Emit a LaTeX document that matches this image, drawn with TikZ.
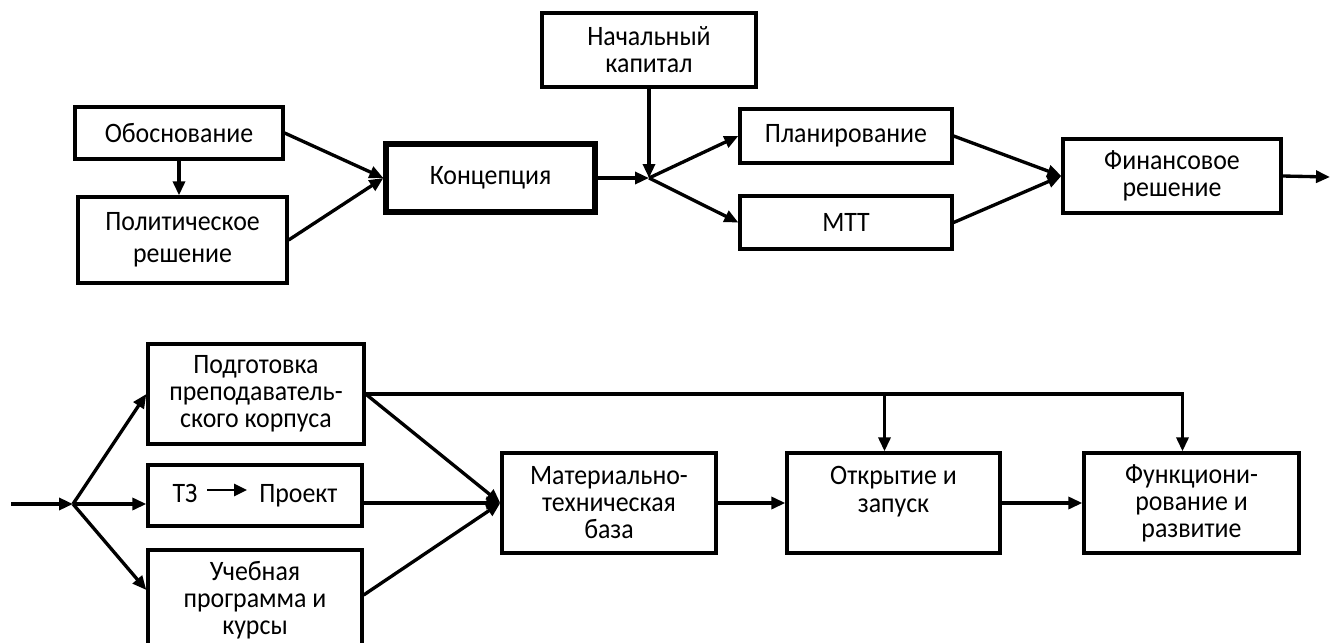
\documentclass[tikz,border=0pt]{standalone}
\usepackage{fontspec}
\setmainfont{Carlito}[FakeStretch=0.92]
\usetikzlibrary{arrows.meta, calc}

\begin{document}
\begin{tikzpicture}[x=0.02cm, y=-0.02cm,
  box/.style={draw, line width=1.9pt, align=center, inner sep=0pt, font=\fontsize{16}{15.4}\selectfont},
  arr/.style={line width=1.9pt, -{Triangle[length=0.28cm, width=0.24cm]}}]
\useasboundingbox (0,0) rectangle (1330,643);
\clip (0,0) rectangle (1330,643);

% upper chain
\node[box, minimum width=4.16cm, minimum height=1.04cm] (obos) at (179,133) {Обоснование};
\node[box, minimum width=4.18cm, minimum height=1.72cm, font=\fontsize{16}{18.2}\selectfont] (pol) at (182.5,240) {Политическое\\решение};
\node[box, line width=3pt, minimum width=4.18cm, minimum height=1.36cm] (kon) at (490.5,178) {Концепция};
\node[box, minimum width=4.28cm, minimum height=1.48cm] (nach) at (649,50) {Начальный\\капитал};
\node[box, minimum width=4.24cm, minimum height=1.08cm] (plan) at (846,136) {Планирование};
\node[box, minimum width=4.24cm, minimum height=1.06cm] (mtt) at (846,222.5) {МТТ};
\node[box, minimum width=4.36cm, minimum height=1.48cm] (fin) at (1172,176) {Финансовое\\решение};
\coordinate (j1) at (649,178);
\coordinate (out) at (1330,177);

\draw[arr] (obos.south) -- (obos.south |- pol.north);
\foreach \a/\b in {obos.east/kon.west, pol.east/kon.west, kon.east/j1, nach.south/j1,
  j1/plan.west, j1/mtt.west, plan.east/fin.west, mtt.east/fin.west, fin.east/out}
  \draw[arr] (\a) -- (\b);

% lower chain
\node[box, minimum width=4.32cm, minimum height=2cm] (pod) at (256,394) {Подготовка\\преподаватель-\\ского корпуса};
\node[box, minimum width=4.28cm, minimum height=1.22cm] (tz) at (255,495.5) {\makebox[3.3cm][l]{ТЗ\hfill Проект}};
\node[box, minimum width=4.28cm, minimum height=2cm] (ucheb) at (255,600) {Учебная\\программа и\\курсы};
\node[box, minimum width=4.28cm, minimum height=2cm] (mat) at (609,503) {Материально-\\техническая\\база};
\node[box, minimum width=4.26cm, minimum height=2cm] (otk) at (893.5,503) {Открытие и\\запуск\\\phantom{з}};
\node[box, minimum width=4.3cm, minimum height=2cm] (func) at (1191.5,503) {Функциони-\\рование и\\развитие};
\coordinate (in) at (11,504);
\coordinate (j2) at (73,504);
\coordinate (tza) at ([xshift=-0.96cm, yshift=0.11cm]tz.center);
\coordinate (tzb) at ([xshift=-0.16cm, yshift=0.11cm]tz.center);

\draw[line width=1.5pt, -{Triangle[length=0.26cm, width=0.24cm]}] (tza) -- (tzb);
\draw[arr] (in) -- (j2);
\draw[arr] (j2) -- (pod.west);
\draw[arr] (j2) -- (j2 -| tz.west);
\draw[arr] (j2) -- ([yshift=0.2cm]ucheb.west);
\draw[arr] (pod.east) -- (mat.west);
\draw[arr] (tz.east |- mat.west) -- (mat.west);
\draw[arr] ([yshift=0.1cm]ucheb.east) -- (mat.west);
\draw[arr] (mat.east) -- (otk.west);
\draw[arr] (otk.east) -- (func.west);
\draw[arr] (pod.east) -| ([xshift=-0.18cm]func.north);
\draw[arr] ([xshift=-0.18cm]otk.north |- pod.east) -- ([xshift=-0.18cm]otk.north);
\end{tikzpicture}
\end{document}
